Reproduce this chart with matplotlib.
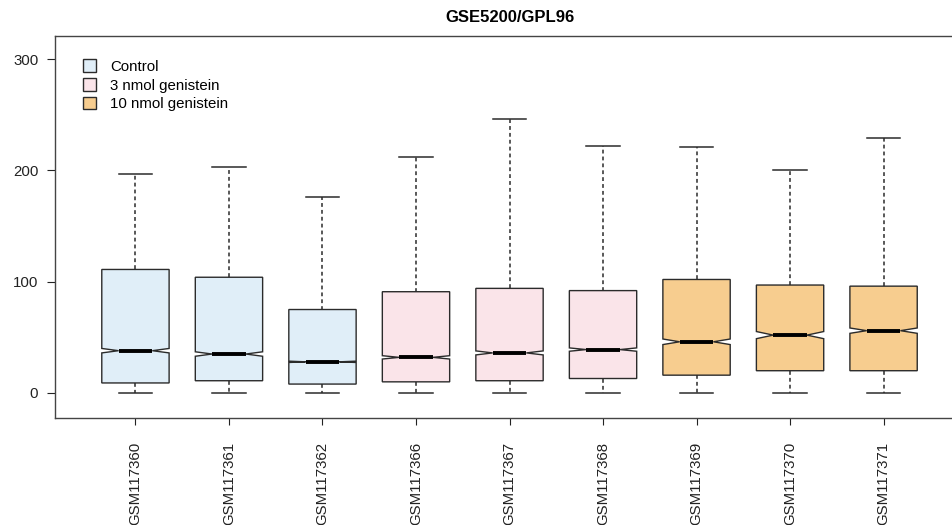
import matplotlib.pyplot as plt
from matplotlib.patches import Patch

# Expressiewaarden per sample (samenvatting van de boxplot)
samples = ["GSM117360", "GSM117361", "GSM117362", "GSM117366", "GSM117367",
           "GSM117368", "GSM117369", "GSM117370", "GSM117371"]
groups = ["Control", "Control", "Control",
          "3 nmol genistein", "3 nmol genistein", "3 nmol genistein",
          "10 nmol genistein", "10 nmol genistein", "10 nmol genistein"]
whis_lo = [0, 0, 0, 0, 0, 0, 0, 0, 0]
q1 = [9, 11, 8, 10, 11, 13, 16, 20, 20]
median = [38, 35, 28, 32, 36, 39, 46, 52, 56]
q3 = [111, 104, 75, 91, 94, 92, 102, 97, 96]
whis_hi = [197, 203, 176, 212, 246, 222, 221, 200, 229]
notch = [2.0, 2.0, 0.6, 1.5, 1.8, 1.5, 2.5, 3.2, 2.4]

group_names = ["Control", "3 nmol genistein", "10 nmol genistein"]
group_colors = {"Control": "#E0EEF8", "3 nmol genistein": "#FAE4E9",
                "10 nmol genistein": "#F7CD8F"}

plt.rcParams['font.family'] = ['Liberation Sans', 'DejaVu Sans']

fig = plt.figure(figsize=(9.52, 5.25), dpi=100)
ax = fig.add_axes([0.0578, 0.2038, 0.9548, 0.7276])

stats = []
for i in range(len(samples)):
    stats.append({
        "label": samples[i],
        "whislo": whis_lo[i], "q1": q1[i], "med": median[i],
        "q3": q3[i], "whishi": whis_hi[i],
        "cilo": median[i] - notch[i], "cihi": median[i] + notch[i],
        "fliers": [],
    })

edge = "#2b2b2b"
pos = list(range(1, len(samples) + 1))
bp = ax.bxp(stats, positions=pos, widths=0.72, capwidths=0.36,
            shownotches=True, showfliers=False, patch_artist=True,
            boxprops=dict(edgecolor=edge, linewidth=1.0),
            medianprops=dict(color="black", linewidth=2.8, solid_capstyle="butt"),
            whiskerprops=dict(color=edge, linewidth=1.1, linestyle=(0, (2.5, 2))),
            capprops=dict(color=edge, linewidth=1.1))
for box, g in zip(bp["boxes"], groups):
    box.set_facecolor(group_colors[g])

ax.set_xlim(0.14, 9.86)
ax.set_ylim(-22.5, 320.8)
ax.set_yticks([0, 100, 200, 300])
ax.set_xticks(pos)
ax.set_xticklabels(samples, rotation=90, fontsize=10.8, color="#222222")
ax.tick_params(axis="y", labelsize=10.8, length=6, pad=6, colors="#222222")
ax.tick_params(axis="x", length=5, pad=12, colors="#222222")
for s in ax.spines.values():
    s.set_color("#444444")
    s.set_linewidth(1.0)

ax.set_title("GSE5200/GPL96", fontsize=12, fontweight="bold", pad=10)

handles = [Patch(facecolor=group_colors[g], edgecolor=edge, linewidth=1.0)
           for g in group_names]
ax.legend(handles, group_names, loc="upper left", bbox_to_anchor=(0.024, 0.955),
          frameon=False, fontsize=10.8, handlelength=0.9, handleheight=0.9,
          handletextpad=0.9, labelspacing=0.3, borderaxespad=0)

fig.savefig("out.png", dpi=100)
